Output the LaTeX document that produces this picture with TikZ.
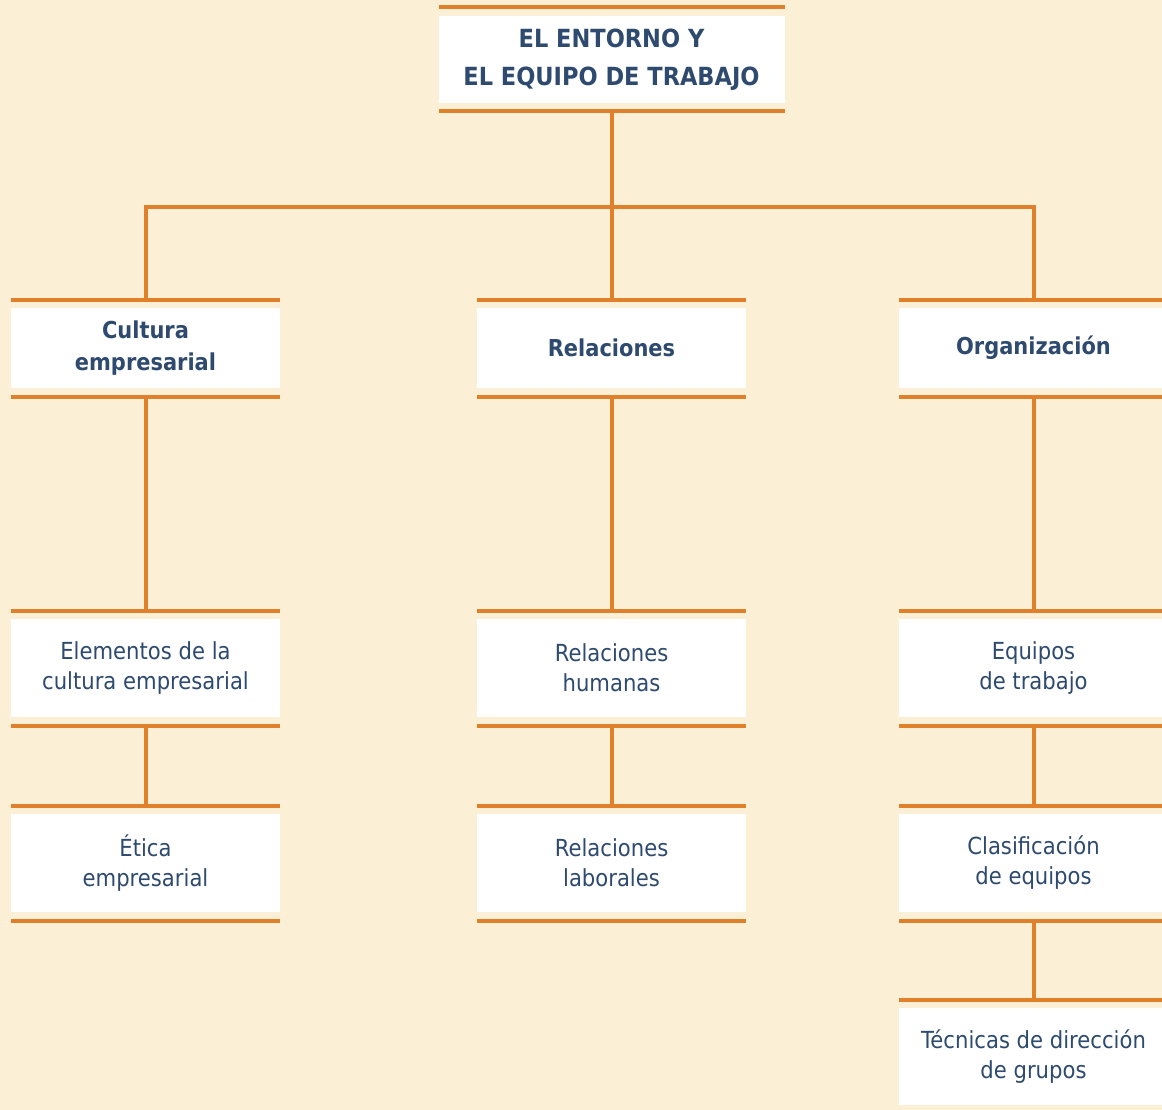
\documentclass[tikz,border=0pt]{standalone}
\usepackage{fontspec}
\setmainfont{DejaVu Sans}[FakeStretch=0.9]
\definecolor{paper}{HTML}{FBF0D6}
\definecolor{barorange}{HTML}{E0802A}
\definecolor{inkblue}{HTML}{2E4A6E}

\begin{document}
\begin{tikzpicture}
	[x=1pt,y=-1pt,
	bar/.style={draw=barorange, line width=4pt},
	link/.style={draw=barorange, line width=4pt},
	box/.style={fill=white, text=inkblue, align=center, inner sep=0pt,
		outer xsep=0pt, outer ysep=8.5pt, minimum width=269pt, minimum height=98pt,
		font=\fontsize{23.5}{30}\selectfont},
	head/.style={box, minimum height=80pt, font=\bfseries\fontsize{23.3}{32}\selectfont},
	title/.style={box, minimum width=346pt, minimum height=87pt,
		font=\bfseries\fontsize{25}{38}\selectfont}]
	\useasboundingbox (0,0) rectangle (1162,1110);
	\fill[paper] (0,0) rectangle (1162,1110);
	\clip (0,0) rectangle (1162,1110);
	% boxes
	\node[title] (top) at (611.5,59.5) {EL ENTORNO Y\\EL EQUIPO DE TRABAJO};
	\node[head] (cul) at (145.5,348) {Cultura\\empresarial};
	\node[head] (rel) at (611.5,348) {Relaciones};
	\node[head] (org) at (1033.5,348) {Organización};
	\node[box] (elem) at (145.5,668) {Elementos de la\\cultura empresarial};
	\node[box] (hum) at (611.5,668) {Relaciones\\humanas};
	\node[box] (equ) at (1033.5,668) {Equipos\\de trabajo};
	\node[box] (eti) at (145.5,863) {Ética\\empresarial};
	\node[box] (lab) at (611.5,863) {Relaciones\\laborales};
	\node[box] (cla) at (1033.5,863) {Clasificación\\de equipos};
	\node[box, minimum height=97pt] (tec) at (1033.5,1056.5) {Técnicas de dirección\\de grupos};
	% bars above and below
	\foreach \n in {top,cul,rel,org,elem,hum,equ,eti,lab,cla} {
		\draw[bar] (\n.north west) -- (\n.north east);
		\draw[bar] (\n.south west) -- (\n.south east);
	}
	\draw[bar] (tec.north west) -- (tec.north east);
	% connectors
	\coordinate (fork) at (611.5,207);
	\draw[link] (top.south) -- (fork);
	\draw[link] (cul.north) |- (fork) -| (org.north);
	\draw[link] (fork) -- (rel.north);
	\draw[link] (cul.south) -- (elem.north);
	\draw[link] (rel.south) -- (hum.north);
	\draw[link] (org.south) -- (equ.north);
	\draw[link] (elem.south) -- (eti.north);
	\draw[link] (hum.south) -- (lab.north);
	\draw[link] (equ.south) -- (cla.north);
	\draw[link] (cla.south) -- (tec.north);
\end{tikzpicture}
\end{document}
